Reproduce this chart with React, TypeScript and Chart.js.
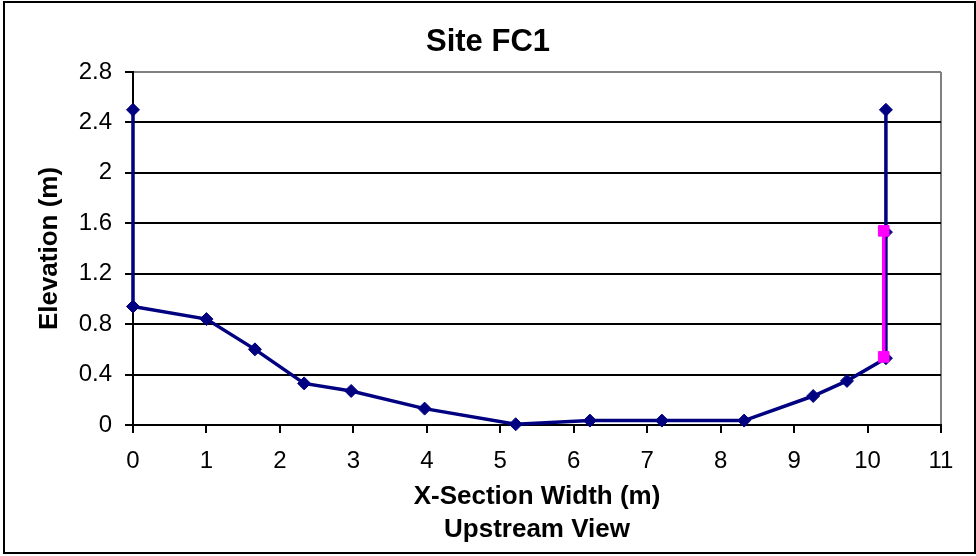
import React, { useEffect, useRef } from "react";
import { Chart, registerables } from "chart.js";

Chart.register(...registerables);

const chartTitle = "Site FC1";
const xAxisTitle = ["X-Section Width (m)", "Upstream View"];
const yAxisTitle = "Elevation (m)";

const profileX = [0, 0, 1.0, 1.66, 2.33, 2.97, 3.97, 5.21, 6.22, 7.2, 8.32, 9.26, 9.72, 10.25, 10.25, 10.25];
const profileY = [2.5, 0.94, 0.84, 0.6, 0.33, 0.27, 0.13, 0.006, 0.035, 0.035, 0.035, 0.23, 0.35, 0.53, 1.53, 2.5];

const waterX = [10.22, 10.22];
const waterY = [1.54, 0.54];

const yMin = 0;
const yMax = 2.8;
const yStep = 0.4;
const xMin = 0;
const xMax = 11;
const xStep = 1;

const FONT = "'Liberation Sans', Arial, sans-serif";

export default function App() {
  const ref = useRef<HTMLCanvasElement | null>(null);

  useEffect(() => {
    document.body.style.margin = "0";
    if (!ref.current) return;
    const chart = new Chart(ref.current, {
      type: "scatter",
      data: {
        datasets: [
          {
            label: "Water",
            data: waterX.map((x, i) => ({ x, y: waterY[i] })),
            showLine: true,
            clip: false,
            borderColor: "#FF00FF",
            backgroundColor: "#FF00FF",
            borderWidth: 3.5,
            pointStyle: "rect",
            pointRadius: 7.5,
            pointBorderWidth: 1,
            pointBorderColor: "#FF00FF",
            pointBackgroundColor: "#FF00FF",
            order: 0,
          },
          {
            label: "Profile",
            data: profileX.map((x, i) => ({ x, y: profileY[i] })),
            showLine: true,
            clip: false,
            borderColor: "#000080",
            backgroundColor: "#000080",
            borderWidth: 3.5,
            pointStyle: "rectRot",
            pointRadius: 6.5,
            pointBorderWidth: 1,
            pointBorderColor: "#000080",
            pointBackgroundColor: "#000080",
            order: 1,
          },
        ],
      },
      options: {
        animation: false,
        responsive: false,
        maintainAspectRatio: false,
        layout: { padding: 0 },
        plugins: {
          legend: { display: false },
          tooltip: { enabled: false },
          title: {
            display: true,
            text: chartTitle,
            color: "#000",
            font: { family: FONT, size: 31, weight: "bold", lineHeight: 1.2 },
            padding: { top: 23.4, bottom: 11.4 },
          },
        },
        scales: {
          x: {
            type: "linear",
            min: xMin,
            max: xMax,
            ticks: {
              stepSize: xStep,
              color: "#000",
              font: { family: FONT, size: 24 },
              padding: 14,
              maxRotation: 0,
            },
            grid: {
              display: true,
              drawOnChartArea: true,
              color: (c: any) => (c.tick && c.tick.value === xMax ? "#808080" : "rgba(0,0,0,0)"),
              tickColor: "#000",
              tickLength: 8,
              lineWidth: 2,
            },
            border: { display: true, color: "#000", width: 2 },
            title: {
              display: true,
              text: xAxisTitle,
              color: "#000",
              font: { family: FONT, size: 26, weight: "bold", lineHeight: 1.27 },
              padding: { top: 0, bottom: 9.5 },
            },
            afterFit: (s: any) => {
              s.height = 131;
              s.paddingRight = 35;
            },
          },
          y: {
            type: "linear",
            min: yMin,
            max: yMax,
            ticks: {
              stepSize: yStep,
              color: "#000",
              font: { family: FONT, size: 24 },
              padding: 13,
              callback: (v: any) => String(Math.round(Number(v) * 10) / 10),
            },
            grid: {
              display: true,
              drawOnChartArea: true,
              color: (c: any) => (c.tick && Math.abs(c.tick.value - yMax) < 1e-6 ? "#808080" : "#000"),
              tickColor: "#000",
              tickLength: 8,
              lineWidth: 2,
            },
            border: { display: true, color: "#000", width: 2 },
            title: {
              display: true,
              text: yAxisTitle,
              color: "#000",
              font: { family: FONT, size: 26, weight: "bold", lineHeight: 1.2 },
              padding: { top: 34.4, bottom: 0 },
            },
            afterFit: (s: any) => {
              s.width = 133;
            },
          },
        },
      },
    });
    return () => chart.destroy();
  }, []);

  return (
    <div style={{ position: "relative", width: 976, height: 556, background: "#fff" }}>
      <canvas ref={ref} width={976} height={556} style={{ position: "absolute", left: 0, top: 0, width: 976, height: 556 }} />
      <div
        style={{
          position: "absolute",
          left: 3,
          top: 1,
          width: 973,
          height: 553,
          border: "2px solid #000",
          boxSizing: "border-box",
          pointerEvents: "none",
        }}
      />
    </div>
  );
}
